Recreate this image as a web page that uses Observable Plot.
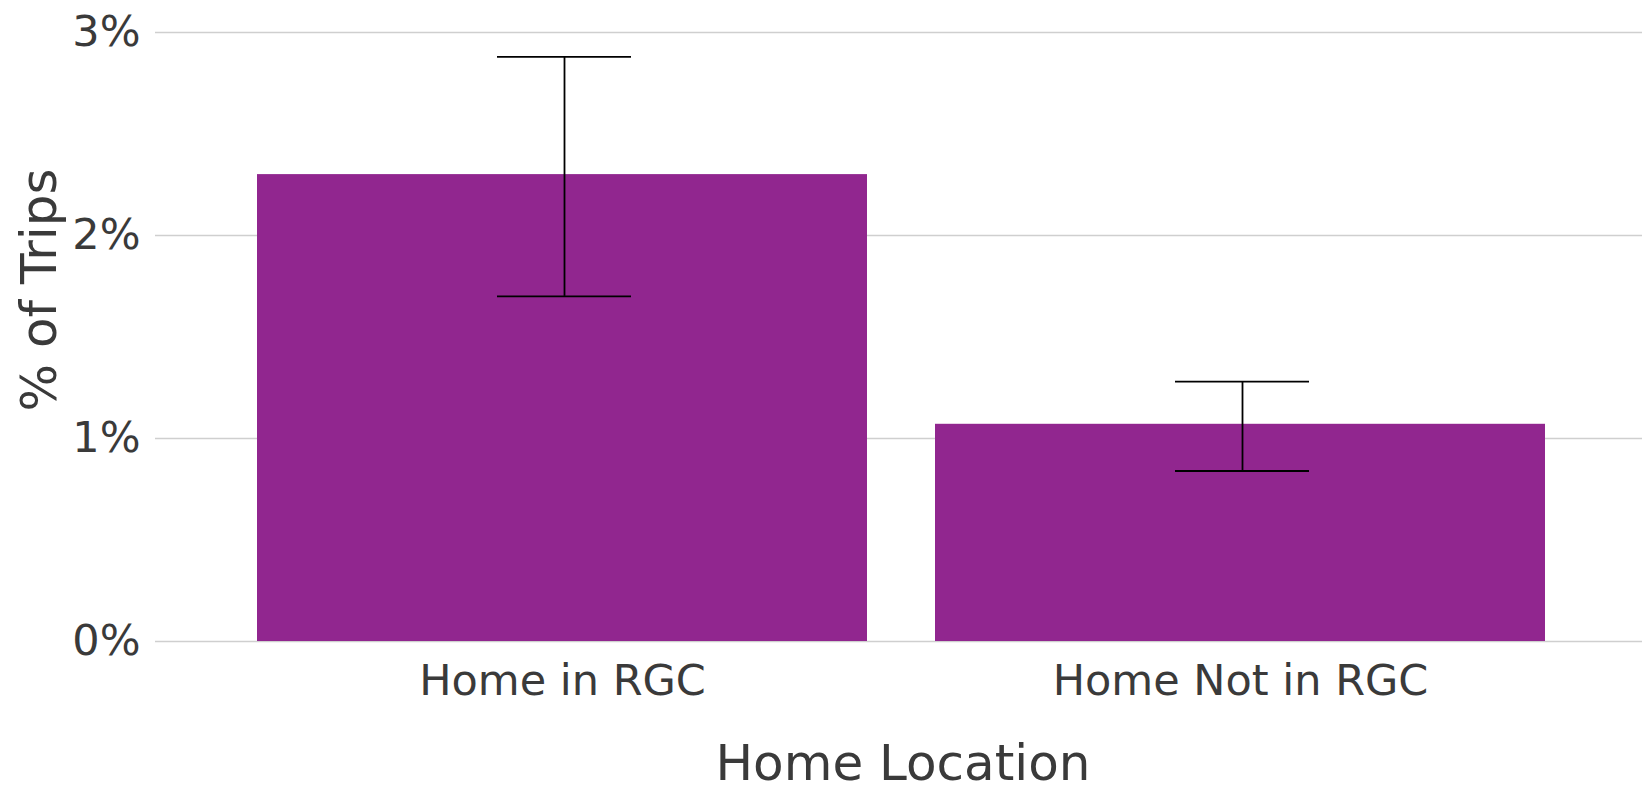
<!DOCTYPE html>
<html>
<head>
<meta charset="utf-8">
<script src="https://cdn.jsdelivr.net/npm/d3@7"></script>
<script src="https://cdn.jsdelivr.net/npm/@observablehq/plot@0.6"></script>
<style>
  html, body { margin: 0; padding: 0; background: #ffffff; }
  #chart svg { display: block; }
</style>
</head>
<body>
<div id="chart"></div>
<script>
const categories = ["Home in RGC", "Home Not in RGC"];
const shares = [2.30, 1.07];
const lower = [1.70, 0.84];
const upper = [2.88, 1.28];
const yTicks = [0, 1, 2, 3];

const data = categories.map((c, i) => ({cat: c, share: shares[i], lo: lower[i], hi: upper[i]}));

const textColor = "#3a3a3a";
const barColor = "#91268F";

const chart = Plot.plot({
  width: 1642,
  height: 790,
  marginLeft: 155,
  marginRight: 0,
  marginTop: 32,
  marginBottom: 149,
  style: {fontFamily: "'DejaVu Sans', sans-serif", color: textColor, background: "#ffffff"},
  x: {domain: categories, range: [155, 1648], paddingInner: 0.1, paddingOuter: 0.15},
  y: {domain: [0, 3]},
  marks: [
    Plot.gridY(yTicks, {stroke: "#cfcfcf", strokeOpacity: 1, strokeWidth: 1.6}),
    Plot.barY(data, {x: "cat", y: "share", fill: barColor}),
    Plot.ruleX(data, {x: "cat", y1: "lo", y2: "hi", stroke: "#000000", strokeWidth: 1.8, dx: 2}),
    Plot.tickY(data, {x: "cat", y: "hi", stroke: "#000000", strokeWidth: 1.8, insetLeft: 238, insetRight: 238, dx: 2}),
    Plot.tickY(data, {x: "cat", y: "lo", stroke: "#000000", strokeWidth: 1.8, insetLeft: 238, insetRight: 238, dx: 2}),
    Plot.axisY({ticks: yTicks, tickFormat: d => d + "%", tickSize: 0, tickPadding: 15, fontSize: 43,
      label: "% of Trips", labelAnchor: "center", labelArrow: "none", labelOffset: 135}),
    Plot.axisX({tickSize: 0, tickPadding: 23, fontSize: 43,
      label: "Home Location", labelAnchor: "center", labelArrow: "none", labelOffset: 138})
  ]
});

chart.querySelectorAll("g[aria-label='y-axis label'] text, g[aria-label='x-axis label'] text").forEach(t => t.setAttribute("font-size", "50"));
const yLab = chart.querySelector("g[aria-label='y-axis label']");
if (yLab) yLab.setAttribute("transform", ((yLab.getAttribute("transform") || "") + " translate(0,-47)").trim());
const xLab = chart.querySelector("g[aria-label='x-axis label']");
if (xLab) xLab.setAttribute("transform", ((xLab.getAttribute("transform") || "") + " translate(4,0)").trim());
document.getElementById("chart").appendChild(chart);
</script>
</body>
</html>
